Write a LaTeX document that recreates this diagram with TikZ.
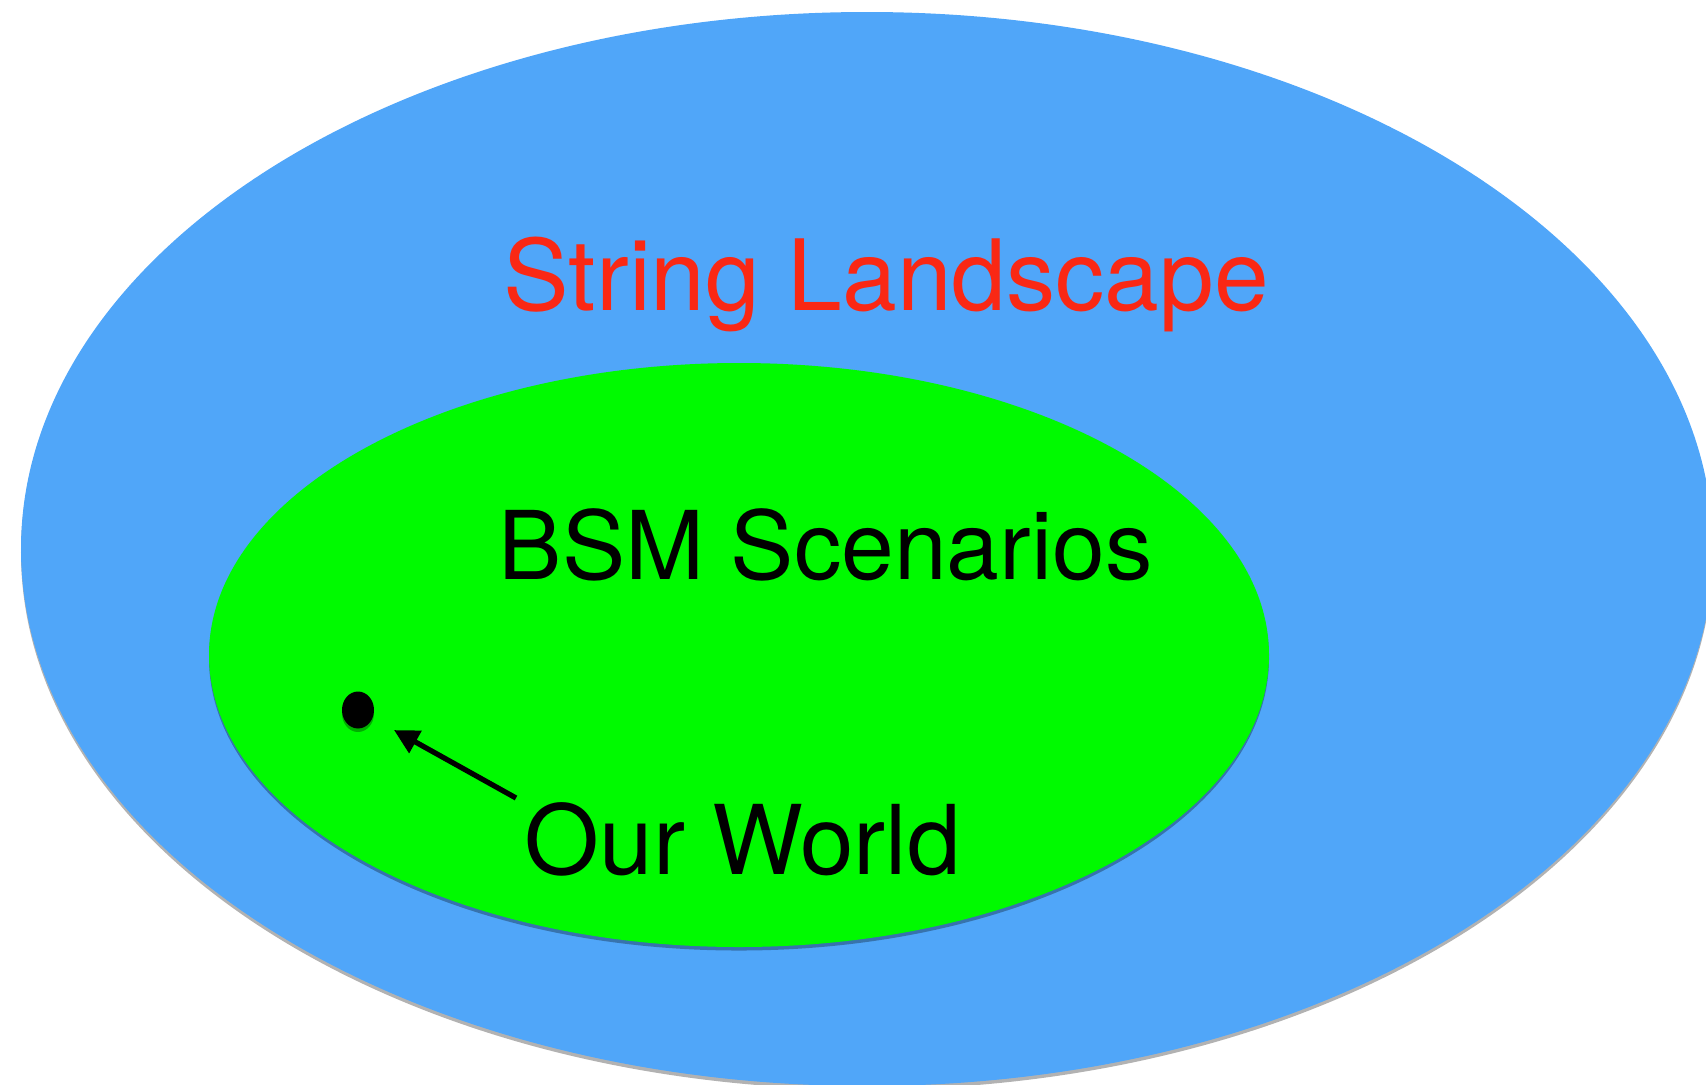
\documentclass[tikz,border=0pt]{standalone}
\usepackage{fontspec}
\setmainfont{TeX Gyre Heros}
\usetikzlibrary{shadows,arrows.meta,shapes.geometric}
\definecolor{landblue}{RGB}{80,166,249}
\definecolor{bsmgreen}{RGB}{0,250,0}
\definecolor{landred}{RGB}{250,40,20}
\tikzset{
  bigtext/.style={inner sep=0pt, anchor=base west, font=\fontsize{27.4}{30}\selectfont},
  softshadow/.style={drop shadow={shadow xshift=0pt, shadow yshift=-1pt, opacity=0.3, fill=black}}
}
\begin{document}
\begin{tikzpicture} [scale = 1]
\useasboundingbox (0, 0) rectangle (17.06, 10.84);
\fill[landblue, softshadow] (8.67, 5.35) ellipse [x radius=8.46, y radius=5.37];
\fill[bsmgreen, softshadow] (7.39, 4.29) ellipse [x radius=5.30, y radius=2.92];
\node[landred, bigtext, font=\fontsize{28}{30}\selectfont] (landscape) at (5.03, 7.74){String Landscape};
\node[black, bigtext, font=\fontsize{27}{30}\selectfont] (bsm) at (4.98, 5.05){BSM Scenarios};
\node[black, bigtext] (ourworld) at (5.24, 2.10){Our World};
\node[ellipse, fill=black, inner sep=0pt, minimum width=0.32cm, minimum height=0.37cm, softshadow] (world) at (3.58, 3.74){};
\coordinate (tail) at (5.16, 2.86);
\draw[black, line width=1.5pt, -{Triangle[length=7pt, width=7pt]}, shorten >=0.24cm] (tail) -- (world);
\end{tikzpicture}
\end{document}
